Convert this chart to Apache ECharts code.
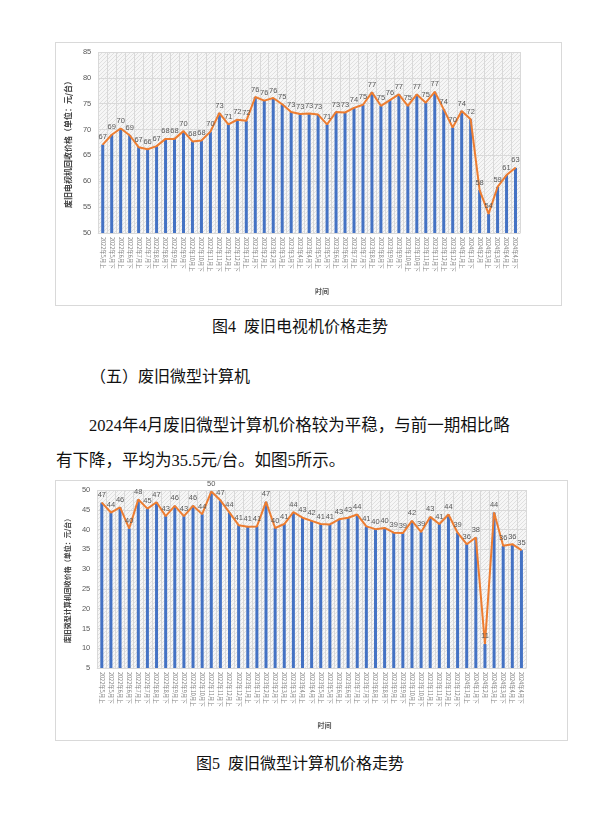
<!DOCTYPE html>
<html>
<head>
<meta charset="utf-8">
<script src="https://cdn.jsdelivr.net/npm/echarts@6/dist/echarts.min.js"></script>
<style>
html,body{margin:0;padding:0;background:#fff;}
#page{position:relative;width:600px;height:835px;background:#fff;overflow:hidden;}
.box{position:absolute;box-sizing:border-box;border:1px solid #d9d9d9;background:#fff;}
.cap{position:absolute;left:0;width:600px;text-align:center;font-family:"Liberation Serif","Noto Sans CJK SC";font-size:16px;line-height:22px;color:#111;}
.txt{position:absolute;font-family:"Liberation Serif","Noto Sans CJK SC";font-size:16.5px;color:#111;white-space:nowrap;}
</style>
</head>
<body>
<div id="page">
  <div id="c1" class="box" style="left:55px;top:42px;width:507px;height:264px;"></div>
  <div class="cap" style="top:316px;">图4&nbsp;&nbsp;废旧电视机价格走势</div>
  <div class="txt" style="left:90px;top:366px;line-height:22px;font-size:16px;">（五）废旧微型计算机</div>
  <div class="txt" style="left:89px;top:408px;line-height:35px;">2024年4月废旧微型计算机价格较为平稳，与前一期相比略</div>
  <div class="txt" style="left:56px;top:443px;line-height:35px;">有下降，平均为35.5元/台。如图5所示。</div>
  <div id="c2" class="box" style="left:55px;top:480px;width:513px;height:261px;"></div>
  <div class="cap" style="top:753px;">图5&nbsp;&nbsp;废旧微型计算机价格走势</div>
</div>
<script>
const categories = ['2022年5月上','2022年5月下','2022年6月上','2022年6月下','2022年7月上','2022年7月下','2022年8月上','2022年8月下','2022年9月上','2022年9月下','2022年10月上','2022年10月下','2022年11月上','2022年11月下','2022年12月上','2022年12月下','2023年1月上','2023年1月下','2023年2月上','2023年2月下','2023年3月上','2023年3月下','2023年4月上','2023年4月下','2023年5月上','2023年5月下','2023年6月上','2023年6月下','2023年7月上','2023年7月下','2023年8月上','2023年8月下','2023年9月上','2023年9月下','2023年10月上','2023年10月下','2023年11月上','2023年11月下','2023年12月上','2023年12月下','2024年1月上','2024年1月下','2024年2月','2024年3月上','2024年3月下','2024年4月上','2024年4月下'];

const tvPrices = [67.1,69.0,70.2,68.9,66.6,66.2,66.8,68.2,68.2,69.7,67.7,67.9,69.6,73.2,71.0,71.9,71.7,76.3,75.6,76.1,74.9,73.4,73.0,73.1,72.9,71.0,73.4,73.3,74.2,74.8,77.2,74.6,75.7,76.8,74.6,76.8,75.2,77.3,73.9,70.4,73.6,72.0,58.3,53.7,58.9,61.2,62.6];

const pcPrices = [46.8,44.3,45.6,40.3,47.6,45.3,46.9,43.4,46.0,43.4,46.0,43.9,49.6,47.4,44.3,41.1,40.7,40.8,47.0,40.4,41.4,44.4,43.0,42.2,41.4,41.3,42.6,43.0,43.8,40.8,40.1,40.4,39.2,39.1,42.2,39.4,43.2,41.4,43.8,39.2,36.3,38.0,11.1,44.3,35.9,36.3,34.8];

const tvAxis = {min:50, max:85, interval:5};
const pcAxis = {min:5, max:50, interval:5};

function hatch(){
  const c = document.createElement('canvas');
  c.width = 4; c.height = 4;
  const g = c.getContext('2d');
  g.fillStyle = '#f6f6f6'; g.fillRect(0,0,4,4);
  g.fillStyle = '#e0e0e0';
  g.fillRect(0,3,1,1); g.fillRect(1,2,1,1); g.fillRect(2,1,1,1); g.fillRect(3,0,1,1);
  return c;
}

function makeOption(values, ax, yName, nameFont, gridCfg, xNameGap, yNameGap){
  return {
    animation:false,
    grid:Object.assign({show:true, backgroundColor:{image:hatch(), repeat:'repeat'}, borderWidth:0}, gridCfg),
    xAxis:{
      type:'category', data:categories,
      axisLine:{show:true, lineStyle:{color:'#d9d9d9'}},
      axisTick:{show:false},
      splitLine:{show:true, interval:0, lineStyle:{color:'#d9d9d9', width:1}},
      axisLabel:{interval:0, rotate:-90, fontSize:5.5, color:'#7f7f7f', margin:4, fontFamily:'Noto Sans CJK SC'},
      name:'时间', nameLocation:'middle', nameGap:xNameGap,
      nameTextStyle:{fontSize:7, color:'#595959', fontWeight:'bold', fontFamily:'Noto Sans CJK SC', padding:[0,0,0,26]}
    },
    yAxis:{
      type:'value', min:ax.min, max:ax.max, interval:ax.interval,
      axisLine:{show:false}, axisTick:{show:false},
      splitLine:{show:true, lineStyle:{color:'#d9d9d9', width:1}},
      axisLabel:{fontSize:7.5, color:'#595959', margin:7, fontFamily:'Liberation Sans'},
      name:yName, nameLocation:'middle', nameGap:yNameGap, nameRotate:90,
      nameTextStyle:{fontSize:nameFont, color:'#404040', fontWeight:'bold', fontFamily:'Noto Sans CJK SC'}
    },
    series:[
      {type:'bar', data:values, barWidth:3, itemStyle:{color:'#4472C4'}, z:2},
      {type:'line', data:values, symbol:'circle', symbolSize:1, showSymbol:true,
       lineStyle:{color:'#ED7D31', width:2}, itemStyle:{color:'#ED7D31'}, z:3,
       label:{show:true, position:'top', distance:3, fontSize:7.5, color:'#595959', fontFamily:'Liberation Sans',
              formatter:p=>Math.round(p.value)}}
    ]
  };
}

const c1 = echarts.init(document.getElementById('c1'), null, {width:505, height:262});
c1.setOption(makeOption(tvPrices, tvAxis, '废旧电视机回收价格（单位：元/台）', 8,
  {left:41, right:41, top:9, bottom:72}, 55, 25));

const c2 = echarts.init(document.getElementById('c2'), null, {width:511, height:259});
c2.setOption(makeOption(pcPrices, pcAxis, '废旧微型计算机回收价格（单位：元/台）', 7,
  {left:40, right:41, top:9, bottom:72}, 54, 26));
</script>
</body>
</html>
